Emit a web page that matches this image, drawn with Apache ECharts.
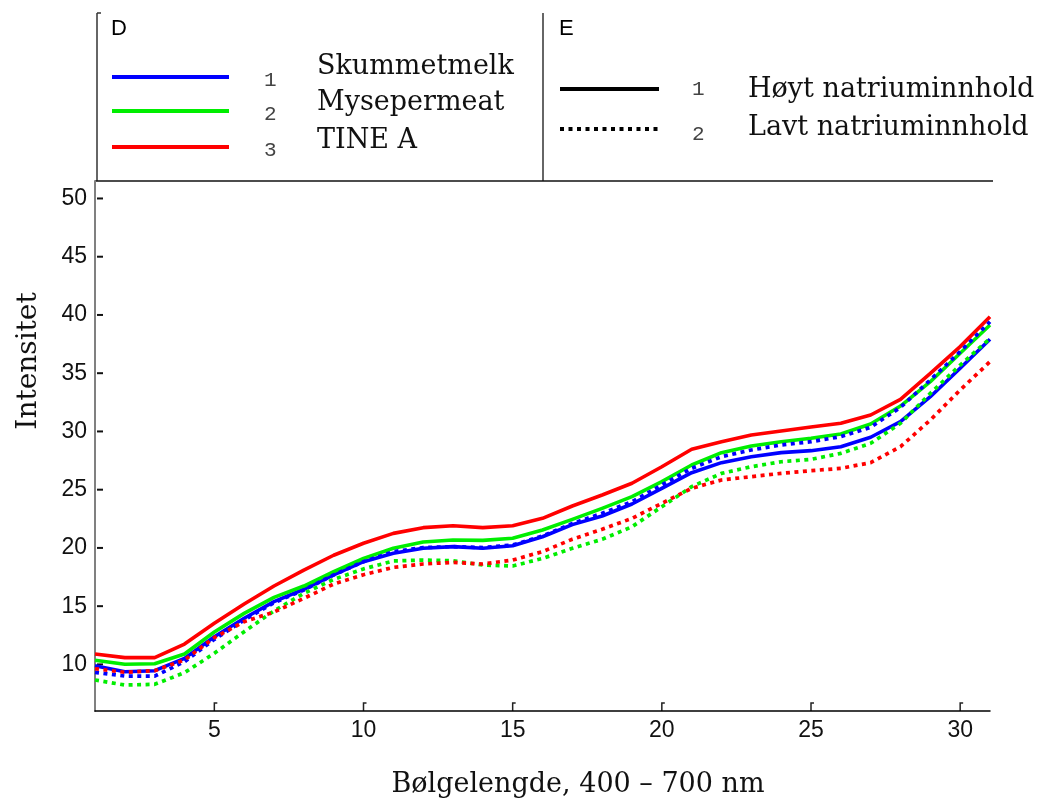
<!DOCTYPE html>
<html>
<head>
<meta charset="utf-8">
<script src="https://cdn.jsdelivr.net/npm/echarts@6/dist/echarts.min.js"></script>
<style>html,body{margin:0;padding:0;background:#fff}#c{width:1039px;height:805px}</style>
</head>
<body>
<div id="c"></div>
<script>
// ---- data ----
const xs = [1,2,3,4,5,6,7,8,9,10,11,12,13,14,15,16,17,18,19,20,21,22,23,24,25,26,27,28,29,30,31];
const skummetHigh = [9.89,9.37,9.46,10.52,12.38,13.96,15.39,16.45,17.68,18.82,19.54,19.97,20.11,19.97,20.19,20.96,22.0,22.74,23.77,25.12,26.46,27.32,27.83,28.18,28.35,28.69,29.5,30.84,32.98,35.42,37.91];
const mysepHigh = [10.35,10.01,10.06,10.89,12.78,14.38,15.76,16.73,17.96,19.1,19.97,20.51,20.68,20.65,20.83,21.54,22.45,23.4,24.4,25.69,27.12,28.18,28.75,29.12,29.41,29.78,30.64,32.18,34.27,36.71,39.14];
const tineHigh = [10.89,10.58,10.58,11.75,13.53,15.19,16.73,18.1,19.37,20.4,21.25,21.74,21.91,21.74,21.91,22.54,23.6,24.54,25.55,26.97,28.47,29.12,29.7,30.04,30.38,30.7,31.41,32.76,34.99,37.28,39.85];
const skummetLow = [9.32,9.0,9.0,10.23,12.15,13.81,15.3,16.39,17.68,18.82,19.68,20.03,20.11,20.03,20.25,21.02,22.1,22.97,23.97,25.4,26.83,27.83,28.41,28.84,29.12,29.55,30.36,32.07,34.42,36.85,39.42];
const mysepLow = [8.66,8.23,8.29,9.29,10.95,12.81,14.6,16.1,17.3,18.2,18.88,18.96,18.9,18.53,18.45,19.1,19.97,20.74,21.82,23.54,25.26,26.4,26.97,27.4,27.6,28.12,28.98,30.7,33.27,35.7,37.98];
const tineLow = [9.63,9.32,9.46,10.38,12.3,13.67,14.5,15.67,16.9,17.7,18.33,18.62,18.76,18.62,18.96,19.68,20.75,21.6,22.54,23.83,25.12,25.83,26.12,26.4,26.63,26.83,27.32,28.69,30.98,33.56,35.99];
const xTicks = [5,10,15,20,25,30];
const yTicks = [10,15,20,25,30,35,40,45,50];
const productNames = ['Skummetmelk','Mysepermeat','TINE A'];
const sodiumNames = ['Høyt natriuminnhold','Lavt natriuminnhold'];
const xTitle = 'Bølgelengde, 400 – 700 nm';
const yTitle = 'Intensitet';

const BLUE = '#0000ff', GREEN = '#00ee00', RED = '#ff0000';
const SERIF = '"DejaVu Serif", "Liberation Serif", serif';
const SANS = '"Liberation Sans", Arial, sans-serif';
const MONO = '"Liberation Mono", "DejaVu Sans Mono", monospace';

function pairs(vals){ return xs.map((x,i)=>[x, vals[i]]); }
function line(name, vals, color, dotted){
  return {
    name, type:'line', data: pairs(vals), symbol:'none', smooth:false,
    lineStyle:{color, width: dotted?3.7:3.6, type: dotted?[4,4.5]:'solid', cap:'butt', join:'round'},
    itemStyle:{color}, z: dotted?3:2, silent:true
  };
}

const chart = echarts.init(document.getElementById('c'), null, {renderer:'canvas'});
const g = [];
const legColors = [BLUE, GREEN, RED];
const legY = [77,111,147];
const labY = [67,103,141];
for (let i=0;i<3;i++){
  g.push({type:'line', shape:{x1:112,y1:legY[i],x2:229,y2:legY[i]}, style:{stroke:legColors[i], lineWidth:4}});
  g.push({type:'text', x:264, y:legY[i]+3, style:{text:String(i+1), font:'21px '+MONO, fill:'#444', textVerticalAlign:'middle'}});
  g.push({type:'text', x:317, y:labY[i], style:{text:productNames[i], font:'27px '+SERIF, fill:'#111', textVerticalAlign:'middle'}});
}
g.push({type:'line', shape:{x1:560,y1:89,x2:659,y2:89}, style:{stroke:'#000', lineWidth:4}});
g.push({type:'line', shape:{x1:560,y1:129,x2:659,y2:129}, style:{stroke:'#000', lineWidth:4, lineDash:[4,4.5]}});
g.push({type:'text', x:692, y:89, style:{text:'1', font:'21px '+MONO, fill:'#444', textVerticalAlign:'middle'}});
g.push({type:'text', x:692, y:134, style:{text:'2', font:'21px '+MONO, fill:'#444', textVerticalAlign:'middle'}});
g.push({type:'text', x:748, y:90, style:{text:sodiumNames[0], font:'27px '+SERIF, fill:'#111', textVerticalAlign:'middle'}});
g.push({type:'text', x:748, y:128, style:{text:sodiumNames[1], font:'27px '+SERIF, fill:'#111', textVerticalAlign:'middle'}});
g.push({type:'text', x:111, y:29, style:{text:'D', font:'22px '+SANS, fill:'#000', textVerticalAlign:'middle'}});
g.push({type:'text', x:559, y:29, style:{text:'E', font:'22px '+SANS, fill:'#000', textVerticalAlign:'middle'}});
// frame lines
g.push({type:'line', shape:{x1:97,y1:13,x2:97,y2:181}, style:{stroke:'#333', lineWidth:1.5}});
g.push({type:'line', shape:{x1:97,y1:13,x2:101,y2:13}, style:{stroke:'#333', lineWidth:1.5}});
g.push({type:'line', shape:{x1:543,y1:13,x2:543,y2:181}, style:{stroke:'#333', lineWidth:1.5}});
g.push({type:'line', shape:{x1:95,y1:181,x2:993,y2:181}, style:{stroke:'#111', lineWidth:1.5}});
// titles
g.push({type:'text', x:578, y:785, style:{text:xTitle, font:'27px '+SERIF, fill:'#111', textAlign:'center', textVerticalAlign:'middle'}});
g.push({type:'text', x:29, y:361, rotation:Math.PI/2, style:{text:yTitle, font:'28px '+SERIF, fill:'#111', textAlign:'center', textVerticalAlign:'middle'}});

chart.setOption({
  animation:false,
  backgroundColor:'#fff',
  grid:{left:95, right:49, top:181, bottom:94, containLabel:false},
  xAxis:{
    type:'value', min:1, max:31,
    axisLine:{show:true, lineStyle:{color:'#000', width:1.5}},
    axisTick:{show:false},
    axisLabel:{show:true, margin:8, fontSize:23, fontFamily:SANS, color:'#111', customValues:xTicks},
    splitLine:{show:false}
  },
  yAxis:{
    type:'value', min:6, max:51.5,
    axisLine:{show:true, lineStyle:{color:'#808080', width:2}},
    axisTick:{show:false},
    axisLabel:{show:true, margin:8, fontSize:23, fontFamily:SANS, color:'#111', customValues:yTicks},
    splitLine:{show:false}
  },
  series:[
    line('Skummetmelk høyt', skummetHigh, BLUE, false),
    line('Mysepermeat høyt', mysepHigh, GREEN, false),
    line('TINE A høyt', tineHigh, RED, false),
    line('Skummetmelk lavt', skummetLow, BLUE, true),
    line('Mysepermeat lavt', mysepLow, GREEN, true),
    line('TINE A lavt', tineLow, RED, true)
  ],
  graphic: g
});

// tick marks placed through the library's own scales
const ticks = [];
const y0 = chart.convertToPixel({gridIndex:0}, [1, 6]);
xTicks.forEach(v => {
  const p = chart.convertToPixel({gridIndex:0}, [v, 6]);
  ticks.push({type:'polyline', shape:{points:[[p[0], y0[1]], [p[0], y0[1]-8], [p[0]+3, y0[1]-8]]}, style:{stroke:'#222', lineWidth:1.5, fill:null}});
});
yTicks.forEach(v => {
  const p = chart.convertToPixel({gridIndex:0}, [1, v]);
  ticks.push({type:'line', shape:{x1:p[0]+2, y1:p[1], x2:p[0]+8, y2:p[1]}, style:{stroke:'#111', lineWidth:2}});
});
chart.setOption({graphic: g.concat(ticks)});
</script>
</body>
</html>
